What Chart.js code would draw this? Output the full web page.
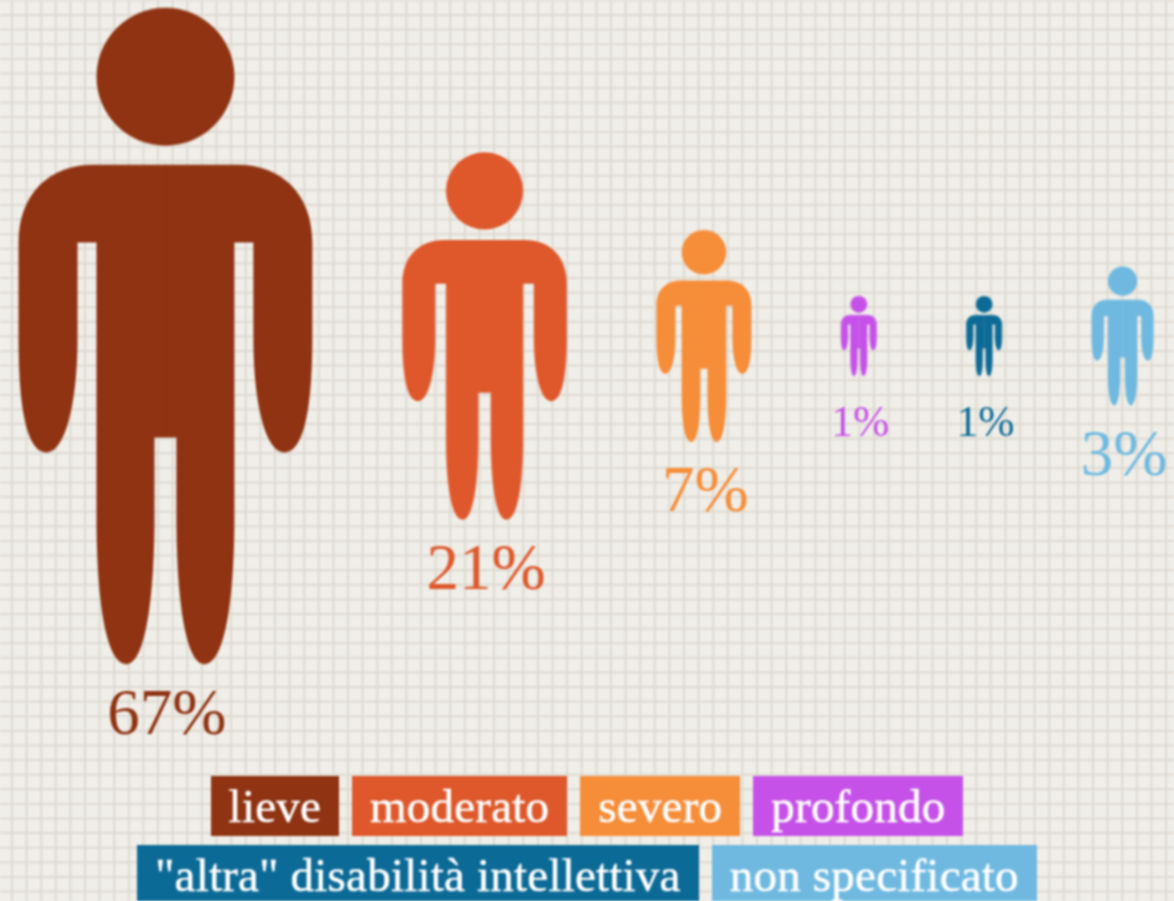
<!DOCTYPE html>
<html lang="it">
<head>
<meta charset="utf-8">
<title>Disabilità intellettiva</title>
<script src="https://cdn.jsdelivr.net/npm/chart.js@4/dist/chart.umd.min.js"></script>
<style>
  html, body { margin: 0; padding: 0; width: 1174px; height: 901px; overflow: hidden; background: #f0eee8; }
  #wrap { position: relative; width: 1174px; height: 901px; overflow: hidden; filter: blur(1px);
    background-color: #f0eee8;
    background-image:
      linear-gradient(to right, #dcd9d1 2px, transparent 2px),
      linear-gradient(to bottom, #dcd9d1 2px, transparent 2px);
    background-size: 14.62px 14.62px;
    background-position: 11px 14px; }
  canvas { position: absolute; left: 0; top: 0; }
  #legend { position: absolute; left: 0; top: 776px; width: 1174px; display: flex; flex-wrap: wrap;
    justify-content: center; gap: 9px 13px; font-family: "Liberation Serif", serif; font-size: 47px;
    letter-spacing: 0.22px; -webkit-text-stroke: 0.5px #fff; }
  #legend span { display: block; height: 60px; line-height: 60px; padding: 0 18px; color: #fff; white-space: nowrap; }
</style>
</head>
<body>
<div id="wrap">
  <canvas id="chart" width="1174" height="901"></canvas>
  <div id="legend"></div>
</div>
<script>
const categories = ['lieve', 'moderato', 'severo', 'profondo', '"altra" disabilità intellettiva', 'non specificato'];
const percentages = [67, 21, 7, 1, 1, 3];
const colors = ['#8f3312', '#de582b', '#f68d39', '#c551e8', '#0c6a96', '#6fb9e0'];

// Pictogram area is proportional to the value: linear size follows the square root.
const HEIGHT_PER_ROOT = 80.2, BASE_H = 657, BASE_W = 295, LEFT = 18, GAP = 89.25;
const heights = percentages.map(v => HEIGHT_PER_ROOT * Math.sqrt(v));
const widths = heights.map(h => h * BASE_W / BASE_H);
let cursor = LEFT;
const points = percentages.map((v, i) => {
  const p = { x: cursor + widths[i] / 2, y: 0, r: heights[i] / 2, v };
  cursor += widths[i] + GAP;
  return p;
});

function halfPerson(ctx) {
  ctx.beginPath();
  ctx.moveTo(-1, 157);
  ctx.lineTo(72, 157);
  ctx.bezierCurveTo(116, 157, 147, 186, 147, 235);
  ctx.lineTo(147, 330);
  ctx.bezierCurveTo(147, 395, 140, 445, 119, 445);
  ctx.bezierCurveTo(100, 445, 88, 395, 88, 330);
  ctx.lineTo(88, 235);
  ctx.lineTo(69, 235);
  ctx.lineTo(69, 510);
  ctx.bezierCurveTo(69, 590, 60, 657, 39, 657);
  ctx.bezierCurveTo(20, 657, 11, 590, 11, 510);
  ctx.lineTo(11, 430);
  ctx.lineTo(-1, 430);
  ctx.closePath();
  ctx.fill();
}

function personSprite(height, color) {
  const s = height / BASE_H;
  const c = document.createElement('canvas');
  c.width = Math.ceil(BASE_W * s) + 4;
  c.height = Math.ceil(height) + 4;
  const ctx = c.getContext('2d');
  ctx.fillStyle = color;
  ctx.translate(c.width / 2, c.height / 2);
  ctx.scale(s, s);
  ctx.translate(0, -BASE_H / 2);
  ctx.beginPath();
  ctx.arc(0, 69, 69, 0, Math.PI * 2);
  ctx.fill();
  halfPerson(ctx);
  ctx.scale(-1, 1);
  halfPerson(ctx);
  return c;
}
const sprites = heights.map((h, i) => personSprite(h, colors[i]));

const percentLabels = {
  id: 'percentLabels',
  afterDatasetsDraw(chart) {
    const ctx = chart.ctx;
    ctx.save();
    ctx.textAlign = 'center';
    ctx.textBaseline = 'alphabetic';
    chart.getDatasetMeta(0).data.forEach((el, i) => {
      const v = percentages[i];
      const size = Math.min(65, 43.5 * Math.sqrt(v));
      ctx.font = size + 'px "Liberation Serif", serif';
      ctx.fillStyle = colors[i];
      ctx.fillText(v + '%', el.x + 1.5, el.y + heights[i] / 2 + 42 + 0.42 * size);
    });
    ctx.restore();
  }
};

new Chart(document.getElementById('chart'), {
  type: 'bubble',
  data: {
    labels: categories,
    datasets: [{
      label: 'Disabilità intellettiva',
      data: points,
      clip: false,
      pointStyle: ctx => sprites[ctx.dataIndex],
      backgroundColor: colors,
      borderWidth: 0,
      hoverBorderWidth: 0
    }]
  },
  options: {
    responsive: false,
    animation: false,
    layout: { padding: 0, autoPadding: false },
    plugins: { legend: { display: false }, tooltip: { enabled: false }, title: { display: false } },
    scales: {
      x: { type: 'linear', display: false, min: 0, max: 1174 },
      y: { type: 'linear', display: false, min: -565, max: 336 }
    }
  },
  plugins: [percentLabels]
});

const legend = document.getElementById('legend');
categories.forEach((name, i) => {
  const item = document.createElement('span');
  item.textContent = name;
  item.style.background = colors[i];
  legend.appendChild(item);
});
</script>
</body>
</html>
